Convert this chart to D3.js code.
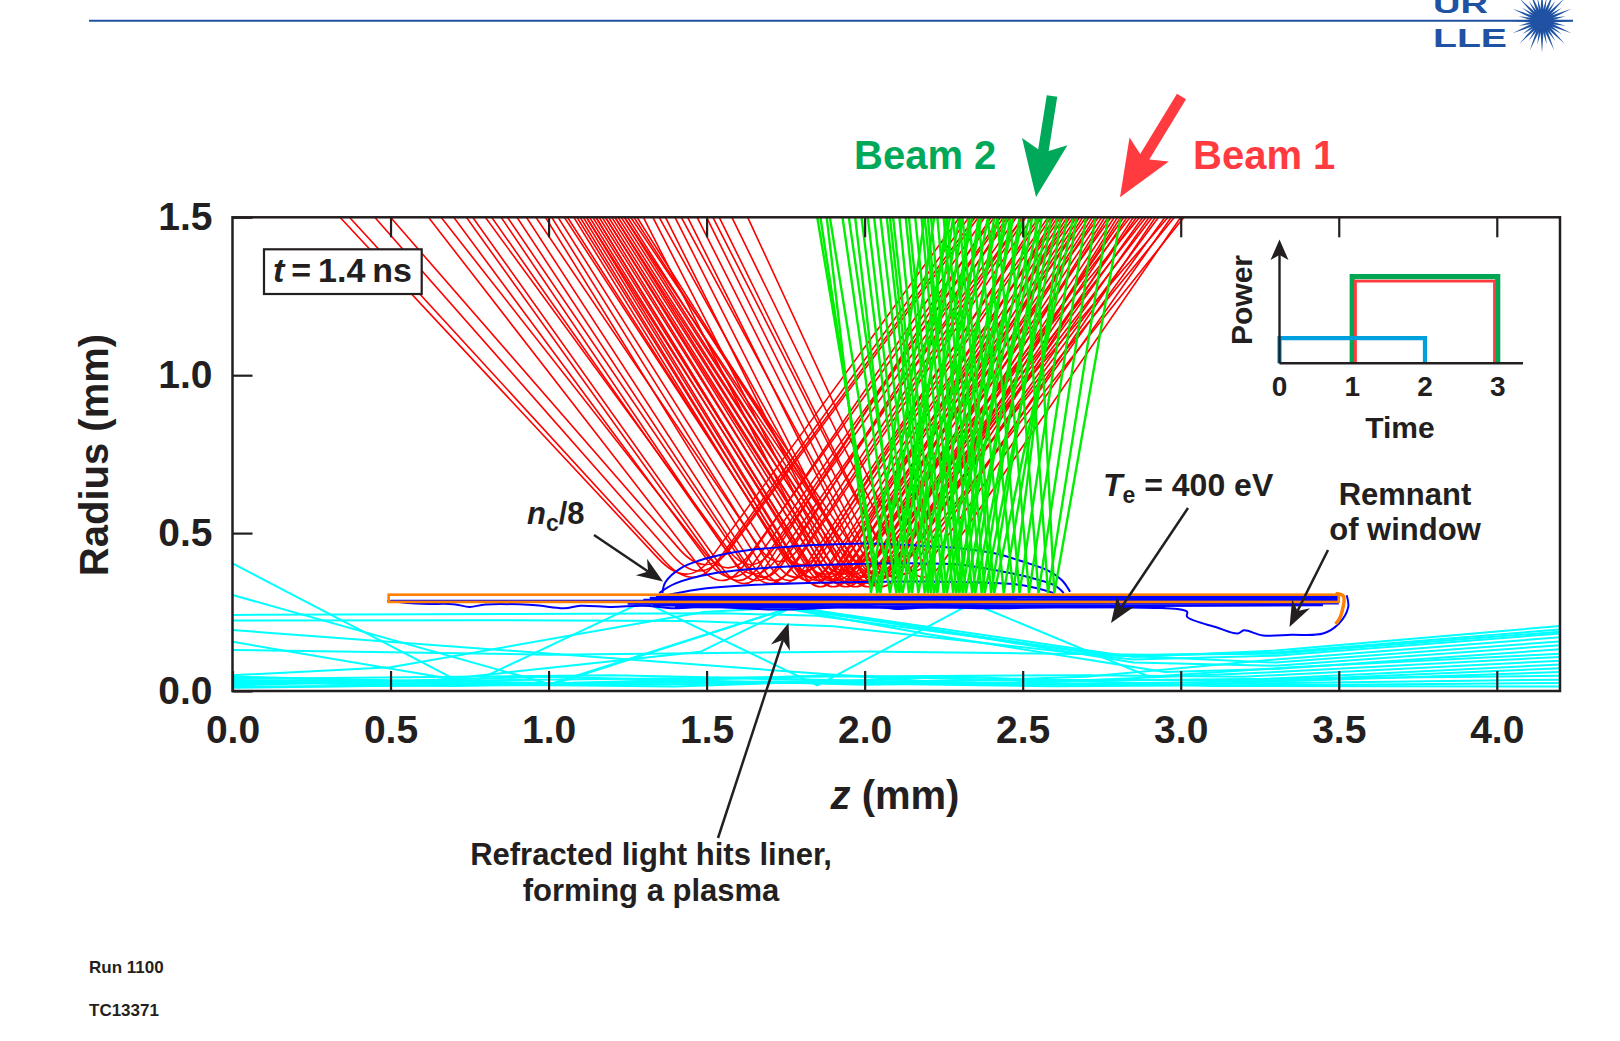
<!DOCTYPE html>
<html><head><meta charset="utf-8">
<script src="https://cdn.jsdelivr.net/npm/d3@7"></script>
<style>
html,body{margin:0;padding:0;background:#fff;}
svg{display:block;}
text{font-family:"Liberation Sans",Arial,Helvetica,sans-serif;font-weight:bold;fill:#231f20;}
</style></head><body>
<svg id="fig" width="1620" height="1041"></svg>
<script>
// ---- axis ticks ----
const X_TICKS = [0, 0.5, 1, 1.5, 2, 2.5, 3, 3.5, 4];
const Y_TICKS = [0, 0.5, 1, 1.5];
const Z_MAX = 4.2, R_MAX = 1.5;

// ---- Beam 1 rays: [z at r=1.5 on exit side, z of turn, r of turn, z at r=1.5 on entry side] (mm)
const beam1Rays = [
  [0.34,1.44,0.32,2.30],[0.37,1.46,0.31,2.33],[0.45,1.48,0.33,2.35],[0.50,1.50,0.35,2.36],
  [0.62,1.55,0.30,2.38],[0.66,1.57,0.34,2.41],[0.70,1.58,0.31,2.44],[0.74,1.60,0.30,2.43],
  [0.76,1.62,0.29,2.40],[0.80,1.64,0.35,2.46],[0.82,1.65,0.32,2.50],[0.85,1.66,0.30,2.48],
  [0.87,1.68,0.31,2.45],[0.90,1.70,0.29,2.51],[0.93,1.71,0.30,2.53],[0.96,1.73,0.36,2.50],
  [0.99,1.74,0.29,2.56],[1.01,1.76,0.30,2.58],[1.03,1.78,0.31,2.59],[1.05,1.80,0.35,2.55],
  [1.06,1.81,0.33,2.62],[1.08,1.82,0.30,2.61],[1.09,1.83,0.31,2.66],[1.10,1.84,0.29,2.63],
  [1.11,1.86,0.28,2.60],[1.12,1.85,0.30,2.65],[1.12,1.87,0.32,2.70],[1.13,1.88,0.29,2.67],
  [1.14,1.89,0.30,2.64],[1.15,1.90,0.28,2.69],[1.15,1.88,0.31,2.74],[1.16,1.92,0.29,2.71],
  [1.17,1.91,0.30,2.68],[1.18,1.94,0.28,2.73],[1.18,1.93,0.32,2.78],[1.19,1.95,0.29,2.75],
  [1.20,1.96,0.30,2.72],[1.21,1.97,0.28,2.77],[1.21,1.98,0.31,2.82],[1.22,1.99,0.29,2.79],
  [1.23,2.00,0.30,2.76],[1.24,2.01,0.28,2.81],[1.24,2.03,0.32,2.86],[1.25,2.02,0.29,2.83],
  [1.26,2.06,0.31,2.90],[1.27,2.04,0.30,2.80],[1.28,2.05,0.28,2.85],[1.30,1.90,0.32,2.87],
  [1.33,1.93,0.33,2.84],[1.35,1.98,0.36,2.96],[1.37,1.96,0.32,2.89],[1.40,2.00,0.31,2.91],
  [1.42,2.04,0.35,2.98],[1.44,2.03,0.32,2.88],[1.47,2.06,0.33,2.93],[1.50,2.09,0.31,2.95],
  [1.52,2.10,0.36,3.01],[1.54,2.12,0.32,2.92],[1.58,2.15,0.33,2.97],[1.63,2.18,0.31,3.00]
];

// ---- Beam 2 rays: [z at r=1.5 left leg, z at bottom, r at bottom, z at r=1.5 right leg] (mm)
const beam2Rays = [
  [1.85,2.05,0.31,2.22],[1.86,2.04,0.31,2.27],[1.89,2.08,0.31,2.30],[1.93,2.10,0.31,2.26],
  [1.95,2.12,0.31,2.34],[1.99,2.14,0.31,2.37],[2.01,2.15,0.31,2.31],[2.03,2.17,0.31,2.39],
  [2.05,2.19,0.31,2.42],[2.07,2.20,0.31,2.36],[2.09,2.22,0.31,2.45],[2.11,2.23,0.31,2.41],
  [2.13,2.25,0.31,2.47],[2.14,2.26,0.31,2.50],[2.16,2.28,0.31,2.44],[2.18,2.29,0.31,2.52],
  [2.19,2.31,0.31,2.49],[2.21,2.32,0.31,2.55],[2.23,2.34,0.31,2.53],[2.25,2.35,0.31,2.58],
  [2.26,2.37,0.31,2.56],[2.28,2.38,0.31,2.61],[2.30,2.40,0.31,2.59],[2.33,2.44,0.31,2.64],
  [2.36,2.47,0.31,2.62],[2.39,2.49,0.31,2.67],[2.42,2.52,0.31,2.70],[2.46,2.55,0.31,2.73],
  [2.50,2.58,0.31,2.77],[2.54,2.60,0.31,2.81],[1.88,2.02,0.31,2.19],[1.97,2.11,0.31,2.28],
  [2.08,2.21,0.31,2.33],[2.20,2.30,0.31,2.46],[2.31,2.41,0.31,2.66]
];

// ---- preheat rays along the axis: polylines of [z, r] (mm)
const preheatRays = [
  [[0,0.404],[0.74,0.018],[1.30,0.283],[1.85,0.018],[2.34,0.278],[2.90,0.045],[3.35,0.075],[4.2,0.118]],
  [[0,0.304],[1.01,0.02],[1.77,0.266],[2.85,0.108],[3.3,0.128],[4.2,0.206]],
  [[0,0.241],[0.9,0.244],[1.55,0.246],[1.85,0.238],[2.8,0.112],[3.3,0.122],[4.2,0.195]],
  [[0,0.223],[0.8,0.224],[1.45,0.222],[1.9,0.205],[2.85,0.10],[3.3,0.112],[4.2,0.182]],
  [[0,0.193],[1.49,0.082],[2.2,0.03],[2.7,0.045],[3.3,0.10],[4.2,0.17]],
  [[0,0.156],[0.74,0.03],[1.0,0.021],[1.76,0.262],[2.75,0.115],[3.3,0.09],[4.2,0.157]],
  [[0,0.05],[0.5,0.075],[1.49,0.25],[1.78,0.266],[2.85,0.09],[3.3,0.08],[4.2,0.145]],
  [[0,0.034],[0.6,0.03],[1.48,0.124],[1.76,0.26],[2.2,0.18],[2.95,0.06],[3.3,0.07],[4.2,0.132]],
  [[0,0.13],[1.0,0.115],[2.0,0.125],[2.9,0.115],[3.3,0.118],[4.2,0.188]],
  [[0,0.042],[1.1,0.024],[1.9,0.05],[2.6,0.03],[3.3,0.06],[4.2,0.108]],
  [[0,0.022],[0.9,0.035],[1.8,0.045],[2.7,0.05],[3.2,0.045],[4.2,0.096]],
  [[0,0.014],[1.3,0.02],[2.4,0.035],[3.2,0.035],[4.2,0.084]],
  [[0,0.028],[0.7,0.016],[1.6,0.04],[2.5,0.02],[3.2,0.03],[4.2,0.072]],
  [[0,0.038],[1.2,0.05],[2.1,0.03],[3.0,0.02],[4.2,0.06]],
  [[0,0.018],[1.0,0.045],[2.0,0.02],[2.9,0.035],[4.2,0.048]],
  [[0,0.046],[0.9,0.02],[1.7,0.03],[2.8,0.018],[4.2,0.036]],
  [[0,0.01],[1.5,0.03],[2.6,0.015],[3.5,0.02],[4.2,0.025]],
  [[0,0.03],[1.4,0.014],[2.3,0.045],[3.1,0.016],[4.2,0.014]]
];

// ---- density contours (n_c/8 and inner levels), [z, r] (mm)
const densityContours = [
  [[1.36,0.31],[1.37,0.345],[1.42,0.39],[1.48,0.414],[1.55,0.432],[1.63,0.446],[1.75,0.456],[1.84,0.462],[2.0,0.467],[2.15,0.462],[2.3,0.452],[2.41,0.436],[2.50,0.41],[2.577,0.383],[2.625,0.35],[2.65,0.314]],
  [[1.35,0.31],[1.40,0.34],[1.52,0.372],[1.73,0.393],[2.05,0.404],[2.3,0.40],[2.41,0.383],[2.52,0.36],[2.60,0.335],[2.63,0.31]],
  [[1.38,0.305],[1.50,0.325],[1.63,0.335],[2.05,0.346],[2.3,0.345],[2.5,0.335],[2.6,0.31]]
];

// ---- T_e = 400 eV contour below the liner and the window remnant
const teContour = [
  [0.49,0.285],[0.6,0.276],[0.7,0.275],[0.75,0.266],[0.8,0.274],[0.95,0.272],[1.05,0.262],[1.1,0.27],
  [1.2,0.266],[1.3,0.27],[1.4,0.262],[1.5,0.268],[1.6,0.262],[1.75,0.258],[1.85,0.262],[2.0,0.27],
  [2.1,0.26],[2.2,0.265],[2.4,0.262],[2.6,0.265],[2.9,0.264],[3.02,0.251],[3.02,0.235],[3.115,0.201],
  [3.18,0.182],[3.2,0.192],[3.26,0.176],[3.35,0.178],[3.45,0.182],[3.50,0.213],[3.53,0.266],[3.525,0.303]
];

// ---- plasma contour lines packed along the liner
const plasmaLines = [
  [[1.34,0.300],[2.0,0.302],[2.7,0.301],[3.5,0.300]],
  [[1.32,0.295],[2.1,0.296],[2.9,0.295],[3.5,0.295]],
  [[1.30,0.288],[2.0,0.290],[2.8,0.289],[3.5,0.288]],
  [[1.28,0.283],[2.0,0.284],[2.7,0.283],[3.5,0.284]],
  [[1.25,0.277],[1.9,0.275],[2.6,0.277],[3.5,0.278]],
  [[1.33,0.271],[2.0,0.268],[2.9,0.270],[3.45,0.272]],
  [[1.40,0.266],[2.1,0.264],[2.5,0.266],[2.95,0.265]]
];
// thin contour inside the cold part of the liner
const coldLinerLine = [[0.50,0.287],[1.35,0.287]];

// ---- liner (z extent, inner/outer radius) and its bent end
const linerZ = [0.494, 3.5];
const linerR = [0.282, 0.305];
const linerHook = [[3.49,0.309],[3.515,0.30],[3.51,0.25],[3.50,0.225],[3.49,0.212]];

// ---- inset: pulse shapes [start time, end time, power]
const PULSE_TICKS = [0, 1, 2, 3];
const preheatPulse = [0, 2, 0.29];
const beam2Pulse = [1, 3, 1.0];
const beam1Pulse = [1, 3, 0.95];

const FONT = '"Liberation Sans",Arial,Helvetica,sans-serif';
const svg = d3.select('#fig');

// ===== header rule and logo =====
const LOGO = '#1f52a3';
svg.append('line').attr('x1', 89).attr('x2', 1573).attr('y1', 20.7).attr('y2', 20.7)
  .attr('stroke', LOGO).attr('stroke-width', 2);
svg.append('text').attr('x', 1433).attr('y', 13.3).attr('font-size', 25)
  .attr('textLength', 55).attr('lengthAdjust', 'spacingAndGlyphs').style('fill', LOGO).text('UR');
svg.append('text').attr('x', 1433).attr('y', 46.7).attr('font-size', 25)
  .attr('textLength', 74).attr('lengthAdjust', 'spacingAndGlyphs').style('fill', LOGO).text('LLE');
const star = svg.append('g').attr('transform', 'translate(1542,21)');
d3.range(32).forEach(i => {
  const a = i * Math.PI * 2 / 32, len = i % 2 ? 24 : 32, w = 2.2;
  const ca = Math.cos(a), sa = Math.sin(a);
  star.append('path')
    .attr('d', `M${-sa*w},${ca*w} L${ca*len},${sa*len} L${sa*w},${-ca*w} Z`)
    .attr('fill', LOGO);
});
star.append('circle').attr('r', 9).attr('fill', LOGO);

// ===== main plot =====
const x = d3.scaleLinear().domain([0, Z_MAX]).range([232.5, 1560]);
const y = d3.scaleLinear().domain([0, R_MAX]).range([691, 217.3]);

svg.append('defs').append('clipPath').attr('id', 'plotClip')
  .append('rect').attr('x', x(0)).attr('y', y(R_MAX)).attr('width', x(Z_MAX) - x(0)).attr('height', y(0) - y(R_MAX));
const plot = svg.append('g').attr('clip-path', 'url(#plotClip)');

const line = d3.line().x(d => x(d[0])).y(d => y(d[1]));
const smooth = d3.line().x(d => x(d[0])).y(d => y(d[1])).curve(d3.curveCatmullRom);

// preheat rays
plot.append('g').selectAll('path').data(preheatRays).join('path')
  .attr('d', line).attr('fill', 'none').attr('stroke', '#00ffff').attr('stroke-width', 2);

// beam 1 rays with a rounded turning point
function turnPath([zL, zC, rC, zR]) {
  const d = 0.1, h = R_MAX - rC;
  const p = d3.path();
  p.moveTo(x(zL), y(R_MAX));
  p.lineTo(x(zC + (zL - zC) * d / h), y(rC + d));
  p.quadraticCurveTo(x(zC), y(rC), x(zC + (zR - zC) * d / h), y(rC + d));
  p.lineTo(x(zR), y(R_MAX));
  return p.toString();
}
plot.append('g').selectAll('path').data(beam1Rays).join('path')
  .attr('d', turnPath).attr('fill', 'none').attr('stroke', '#ff0000').attr('stroke-width', 1.6);

// density contours
plot.append('g').selectAll('path').data(densityContours).join('path')
  .attr('d', smooth).attr('fill', 'none').attr('stroke', '#0000ff').attr('stroke-width', 2);

// beam 2 rays
plot.append('g').selectAll('path')
  .data(beam2Rays.map(([zL, zB, rB, zR]) => [[zL, R_MAX], [zB, rB], [zR, R_MAX]])).join('path')
  .attr('d', line).attr('fill', 'none').attr('stroke', '#00ee00').attr('stroke-width', 2.4);

// plasma along the liner, then the liner outline on top
const linerG = plot.append('g');
linerG.selectAll('path.pl').data(plasmaLines).join('path').attr('class', 'pl')
  .attr('d', line).attr('fill', 'none').attr('stroke', '#0000ff').attr('stroke-width', 2.4);
linerG.append('path').attr('d', line(coldLinerLine)).attr('fill', 'none')
  .attr('stroke', '#0000ff').attr('stroke-width', 1.4);
linerG.append('path').attr('d', smooth(teContour)).attr('fill', 'none')
  .attr('stroke', '#0000ff').attr('stroke-width', 2);
linerG.append('rect')
  .attr('x', x(linerZ[0])).attr('y', y(linerR[1]))
  .attr('width', x(linerZ[1]) - x(linerZ[0])).attr('height', y(linerR[0]) - y(linerR[1]))
  .attr('fill', 'none').attr('stroke', '#ff8000').attr('stroke-width', 2.6);
linerG.append('path').attr('d', smooth(linerHook)).attr('fill', 'none')
  .attr('stroke', '#ff8000').attr('stroke-width', 3.5);

// frame and ticks
const axisG = svg.append('g');
axisG.append('rect').attr('x', x(0)).attr('y', y(R_MAX))
  .attr('width', x(Z_MAX) - x(0)).attr('height', y(0) - y(R_MAX))
  .attr('fill', 'none').attr('stroke', '#231f20').attr('stroke-width', 2.5);

function styleAxis(g) {
  g.select('.domain').remove();
  g.selectAll('.tick line').attr('stroke', '#231f20').attr('stroke-width', 2.2);
  g.selectAll('.tick text').attr('font-family', FONT).attr('font-weight', 'bold')
    .attr('font-size', 39).style('fill', '#231f20');
}
axisG.append('g').attr('transform', `translate(0,${y(0)})`)
  .call(d3.axisBottom(x).tickValues(X_TICKS).tickFormat(d3.format('.1f')).tickSize(-20).tickPadding(24))
  .call(styleAxis);
axisG.append('g').attr('transform', `translate(0,${y(R_MAX)})`)
  .call(d3.axisTop(x).tickValues(X_TICKS.slice(1)).tickFormat('').tickSize(-20))
  .call(styleAxis);
axisG.append('g').attr('transform', `translate(${x(0)},0)`)
  .call(d3.axisLeft(y).tickValues(Y_TICKS).tickFormat(d3.format('.1f')).tickSize(-20).tickPadding(20))
  .call(styleAxis);

// axis titles
const zt = svg.append('text').attr('x', 895).attr('y', 809).attr('font-size', 40).attr('text-anchor', 'middle');
zt.append('tspan').attr('font-style', 'italic').text('z');
zt.append('tspan').text(' (mm)');
svg.append('text').attr('transform', 'translate(108,455) rotate(-90)')
  .attr('font-size', 40).attr('text-anchor', 'middle').text('Radius (mm)');

// time stamp box
svg.append('rect').attr('x', 264).attr('y', 249.3).attr('width', 157.7).attr('height', 44.7)
  .attr('fill', '#fff').attr('stroke', '#231f20').attr('stroke-width', 2.2);
const tt = svg.append('text').attr('x', 342.5).attr('y', 281.5).attr('font-size', 34)
  .attr('text-anchor', 'middle').attr('word-spacing', -2.5);
tt.append('tspan').attr('font-style', 'italic').text('t');
tt.append('tspan').text(' = 1.4 ns');

// ===== arrows =====
function arrowGeom(x1, y1, x2, y2) {
  const dx = x2 - x1, dy = y2 - y1, L = Math.hypot(dx, dy);
  return { ux: dx / L, uy: dy / L, nx: -dy / L, ny: dx / L };
}
function lineArrow(x1, y1, x2, y2, color = '#231f20') {
  const { ux, uy, nx, ny } = arrowGeom(x1, y1, x2, y2);
  const HL = 26, HW = 10, ND = 18;
  svg.append('line').attr('x1', x1).attr('y1', y1)
    .attr('x2', x2 - ux * ND).attr('y2', y2 - uy * ND)
    .attr('stroke', color).attr('stroke-width', 2.5);
  const pts = [
    [x2, y2],
    [x2 - ux * HL + nx * HW, y2 - uy * HL + ny * HW],
    [x2 - ux * ND, y2 - uy * ND],
    [x2 - ux * HL - nx * HW, y2 - uy * HL - ny * HW]
  ];
  svg.append('polygon').attr('points', pts.map(p => p.join(',')).join(' ')).attr('fill', color);
}
function blockArrow(x1, y1, x2, y2, color) {
  const { ux, uy, nx, ny } = arrowGeom(x1, y1, x2, y2);
  const HL = 56, HW = 23, ND = 45, SW = 5.3;
  const back = ND + (HL - ND) * SW / HW;
  const P = (a, b) => [x2 - ux * a + nx * b, y2 - uy * a + ny * b];
  const pts = [
    [x1 + nx * SW, y1 + ny * SW], P(back, SW), P(HL, HW), [x2, y2],
    P(HL, -HW), P(back, -SW), [x1 - nx * SW, y1 - ny * SW]
  ];
  svg.append('polygon').attr('points', pts.map(p => p.join(',')).join(' ')).attr('fill', color);
}

const GREEN = '#00a85a', RED = '#ff3b3f';
blockArrow(1052, 96, 1036, 197, GREEN);
blockArrow(1181.5, 96.5, 1120, 197.3, RED);
svg.append('text').attr('x', 854).attr('y', 169).attr('font-size', 40).style('fill', GREEN).text('Beam 2');
svg.append('text').attr('x', 1193).attr('y', 169).attr('font-size', 40).style('fill', RED).text('Beam 1');

// ===== annotations =====
const nc = svg.append('text').attr('x', 527).attr('y', 524).attr('font-size', 31);
nc.append('tspan').attr('font-style', 'italic').text('n');
nc.append('tspan').attr('dy', 7).attr('font-size', 23).text('c');
nc.append('tspan').attr('dy', -7).text('/8');
lineArrow(594, 535, 663, 581.5);

const te = svg.append('text').attr('x', 1103).attr('y', 496).attr('font-size', 32);
te.append('tspan').attr('font-style', 'italic').text('T');
te.append('tspan').attr('dy', 7).attr('font-size', 23).text('e');
te.append('tspan').attr('dy', -7).text(' = 400 eV');
lineArrow(1188, 508, 1111, 623);

svg.append('text').attr('x', 1405).attr('y', 505).attr('font-size', 31).attr('text-anchor', 'middle').text('Remnant');
svg.append('text').attr('x', 1405).attr('y', 540).attr('font-size', 31).attr('text-anchor', 'middle').text('of window');
lineArrow(1328, 550, 1289.5, 627);

svg.append('text').attr('x', 651).attr('y', 865).attr('font-size', 31).attr('text-anchor', 'middle').text('Refracted light hits liner,');
svg.append('text').attr('x', 651).attr('y', 901).attr('font-size', 31).attr('text-anchor', 'middle').text('forming a plasma');
lineArrow(718, 838, 788.5, 623);

// ===== inset: laser power vs time =====
const ix = d3.scaleLinear().domain([0, 3]).range([1279.5, 1497.7]);
const iy = d3.scaleLinear().domain([0, 1]).range([363.3, 276.7]);
const inset = svg.append('g');
function pulsePath([t0, t1, p], inward = 0) {
  return d3.line()([[ix(t0) + inward, iy(0)], [ix(t0) + inward, iy(p)], [ix(t1) - inward, iy(p)], [ix(t1) - inward, iy(0)]]);
}
inset.append('path').attr('d', pulsePath(beam2Pulse)).attr('fill', 'none')
  .attr('stroke', '#00a651').attr('stroke-width', 5.2).attr('stroke-linejoin', 'miter');
inset.append('path').attr('d', pulsePath(beam1Pulse, 3.2)).attr('fill', 'none')
  .attr('stroke', '#ff3b3f').attr('stroke-width', 2.8);
inset.append('path').attr('d', pulsePath(preheatPulse)).attr('fill', 'none')
  .attr('stroke', '#00a0dc').attr('stroke-width', 4.2);
inset.append('line').attr('x1', ix(0)).attr('x2', 1523).attr('y1', iy(0)).attr('y2', iy(0))
  .attr('stroke', '#231f20').attr('stroke-width', 2.4);
inset.append('line').attr('x1', ix(0)).attr('x2', ix(0)).attr('y1', iy(0)).attr('y2', 252)
  .attr('stroke', '#231f20').attr('stroke-width', 2.4);
inset.append('polygon')
  .attr('points', `${ix(0)},239.5 ${ix(0) + 9},260 ${ix(0)},255 ${ix(0) - 9},260`).attr('fill', '#231f20');
inset.selectAll('text.tk').data(PULSE_TICKS).join('text').attr('class', 'tk')
  .attr('x', d => ix(d)).attr('y', 396).attr('font-size', 28).attr('text-anchor', 'middle').text(d => d);
inset.append('text').attr('x', 1400).attr('y', 438).attr('font-size', 30).attr('text-anchor', 'middle').text('Time');
inset.append('text').attr('transform', 'translate(1252,300) rotate(-90)')
  .attr('font-size', 30).attr('text-anchor', 'middle').text('Power');

// ===== footer =====
svg.append('text').attr('x', 89).attr('y', 972.5).attr('font-size', 17).text('Run 1100');
svg.append('text').attr('x', 89).attr('y', 1016).attr('font-size', 17).text('TC13371');
</script></body></html>
